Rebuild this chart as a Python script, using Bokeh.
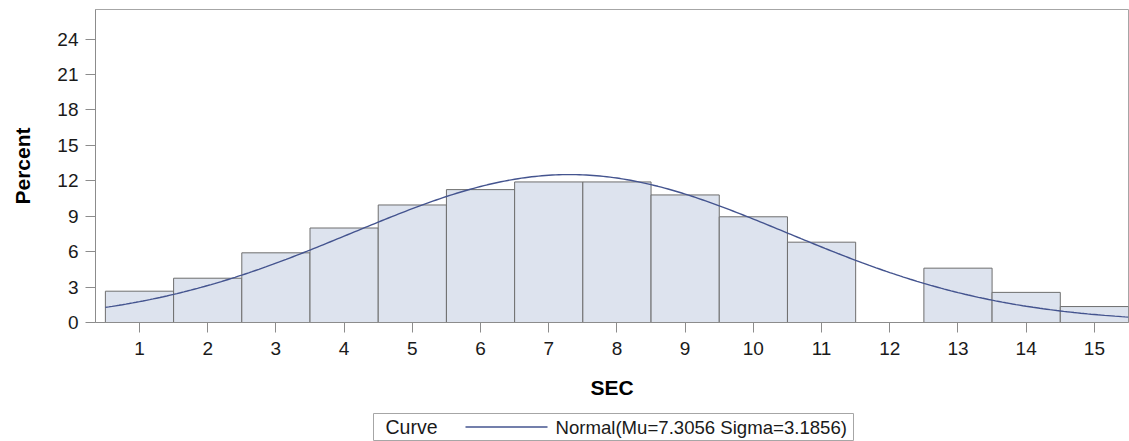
import numpy as np
from bokeh.plotting import figure
from bokeh.models import Range1d, FixedTicker, ColumnDataSource, Spacer
from bokeh.layouts import column, row
from bokeh.core.properties import value
from bokeh.embed import file_html
from bokeh.resources import INLINE

# ---- data ----
sec_bins = [1, 2, 3, 4, 5, 6, 7, 8, 9, 10, 11, 12, 13, 14, 15]
percent = [2.65, 3.75, 5.9, 8.0, 9.95, 11.25, 11.9, 11.9, 10.8, 8.95, 6.8, 0.0, 4.6, 2.55, 1.35]
bin_width = 1.0
mu = 7.3056
sigma = 3.1856
y_ticks = [0, 3, 6, 9, 12, 15, 18, 21, 24]
x_ticks = sec_bins
x_label = "SEC"
y_label = "Percent"
legend_title = "Curve"
curve_label = "Normal(Mu=7.3056 Sigma=3.1856)"

FONT = "Liberation Sans"
BAR_FILL = "#dde3ee"
BAR_LINE = "#6e6e6e"
CURVE = "#44548f"
AXIS_GRAY = "#8c8c8c"
TEXT = "#1a1a1a"

# bars (empty bins are not drawn)
bar_src = ColumnDataSource(dict(
    x=[b for b, v in zip(sec_bins, percent) if v > 0],
    top=[v for v in percent if v > 0],
))

# fitted normal curve, scaled to percent per bin
lo = sec_bins[0] - bin_width / 2
hi = sec_bins[-1] + bin_width / 2
cx = np.linspace(lo, hi, 301)
cy = 100.0 * bin_width * np.exp(-0.5 * ((cx - mu) / sigma) ** 2) / (sigma * np.sqrt(2 * np.pi))

p = figure(width=1129, height=412, output_backend="svg", toolbar_location=None,
           x_range=Range1d(0.355, hi), y_range=Range1d(0, 26.5),
           min_border_left=95, min_border_right=1, min_border_top=9, min_border_bottom=90)

p.vbar(x="x", top="top", width=bin_width, source=bar_src,
       fill_color=BAR_FILL, line_color=BAR_LINE, line_width=1)
p.line(cx, cy, line_color=CURVE, line_width=1.4)

p.grid.visible = False
p.outline_line_color = "#a6a6a6"
p.background_fill_color = "white"
p.border_fill_color = "white"

for ax in (p.xaxis[0], p.yaxis[0]):
    ax.axis_line_color = AXIS_GRAY
    ax.major_tick_line_color = AXIS_GRAY
    ax.minor_tick_line_color = None
    ax.major_tick_out = 10
    ax.major_tick_in = 0
    ax.major_label_text_font = FONT
    ax.major_label_text_font_size = "19px"
    ax.major_label_text_color = TEXT
    ax.axis_label_text_font = FONT
    ax.axis_label_text_font_size = "21px"
    ax.axis_label_text_font_style = "bold"
    ax.axis_label_text_color = "#000000"

p.xaxis.ticker = FixedTicker(ticks=x_ticks)
p.yaxis.ticker = FixedTicker(ticks=y_ticks)
p.xaxis.axis_label = x_label
p.yaxis.axis_label = y_label
p.xaxis.major_label_standoff = 9
p.yaxis.major_label_standoff = 7
p.xaxis.axis_label_standoff = 18
p.yaxis.axis_label_standoff = 20

# ---- legend box below the plot ----
LEG_W, LEG_H = 480, 27
leg = figure(width=LEG_W + 2, height=LEG_H + 2, output_backend="svg", toolbar_location=None,
             x_range=Range1d(0, LEG_W), y_range=Range1d(0, LEG_H),
             x_axis_location=None, y_axis_location=None,
             min_border_left=1, min_border_right=1, min_border_top=1, min_border_bottom=1)
leg.grid.visible = False
leg.outline_line_color = "#a6a6a6"
mid = LEG_H / 2
leg.text(x=[12], y=[mid], text=[legend_title], text_font=value(FONT), text_font_size="19.5px",
         text_baseline="middle", text_align="left", text_color=TEXT)
leg.line(x=[92, 174], y=[mid, mid], line_color=CURVE, line_width=1.3)
leg.text(x=[182], y=[mid], text=[curve_label], text_font=value(FONT), text_font_size="18.6px",
         text_baseline="middle", text_align="left", text_color=TEXT)

layout = column(p, row(Spacer(width=372, height=LEG_H + 2), leg))

open("out.html", "w").write(file_html(layout, INLINE))
